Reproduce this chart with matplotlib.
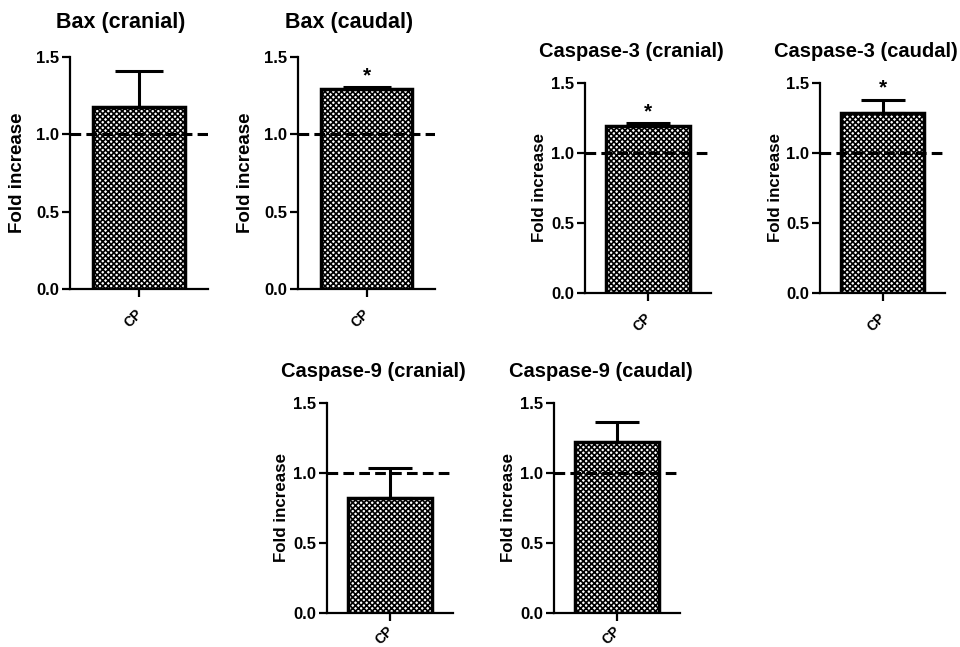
import matplotlib
matplotlib.use("Agg")
import matplotlib.pyplot as plt
from matplotlib.transforms import ScaledTranslation

# Daten
titles = ["Bax (cranial)", "Bax (caudal)", "Caspase-3 (cranial)",
          "Caspase-3 (caudal)", "Caspase-9 (cranial)", "Caspase-9 (caudal)"]
groups = ["CP"]
means = [1.177, 1.293, 1.193, 1.286, 0.821, 1.221]
sems = [0.23, 0.01, 0.02, 0.093, 0.215, 0.143]
stars = ["", "*", "*", "*", "", ""]
yticks = [0.0, 0.5, 1.0, 1.5]
ytick_labels = ["0.0", "0.5", "1.0", "1.5"]
reference = 1.0

# Lage der Achsen in Pixeln: links, rechts, oben, unten
boxes = [(70, 208, 57, 289), (298, 435, 57, 289),
         (585, 711, 83, 293), (820, 945, 83, 293),
         (327, 453, 403, 613), (554, 680, 403, 613)]

W, H = 960, 647
plt.rcParams['font.family'] = ['Liberation Sans', 'DejaVu Sans']
plt.rcParams['font.weight'] = 'bold'
plt.rcParams['hatch.linewidth'] = 1.2

fig = plt.figure(figsize=(W / 100, H / 100), dpi=100)

for i, (l, r, t, b) in enumerate(boxes):
    ax = fig.add_axes([l / W, 1 - b / H, (r - l) / W, (b - t) / H])
    big = i < 2

    x = list(range(len(groups)))
    ax.bar(x, [means[i]], width=1.0, color="white", edgecolor="black",
           hatch="xxxxxx", linewidth=2.5, zorder=3)
    ax.errorbar(x, [means[i]], yerr=[[0], [sems[i]]], fmt="none",
                ecolor="black", elinewidth=2.2, capsize=17.5 if big else 15.5,
                capthick=2.2, zorder=2)
    ax.axhline(reference, color="black", linestyle=(0, (3.5, 1.7)),
               linewidth=2.2, zorder=4)
    if stars[i]:
        ax.text(x[0], means[i] + sems[i] + 0.015, stars[i], ha="center",
                va="bottom", fontsize=15, fontweight="bold")

    ax.set_xlim(-0.75, 0.75)
    ax.set_ylim(0, 1.5)
    ax.set_yticks(yticks)
    ax.set_yticklabels(ytick_labels)
    ax.set_xticks(x)
    ax.set_xticklabels(groups, rotation=45, ha="center", va="top",
                       fontsize=10)
    for spine in ["top", "right"]:
        ax.spines[spine].set_visible(False)
    for spine in ["left", "bottom"]:
        ax.spines[spine].set_linewidth(1.6)
    ax.tick_params(axis="both", direction="out", length=6, width=1.6)
    ax.tick_params(axis="y", labelsize=12, pad=2)
    ax.tick_params(axis="x", pad=7 if b < 400 else 1.5)
    shift = ScaledTranslation(-6 / 100, 0, fig.dpi_scale_trans)
    for lab in ax.get_xticklabels():
        lab.set_transform(lab.get_transform() + shift)
    for lab in ax.get_xticklabels() + ax.get_yticklabels():
        lab.set_fontweight("bold")
    ax.set_ylabel("Fold increase", fontsize=13.5 if big else 12.2,
                  fontweight="bold")
    ax.yaxis.set_label_coords(-0.32 if big else -0.30, 0.5)
    ax.text(0.37, 1.15, titles[i], transform=ax.transAxes, ha="center",
            va="center", fontsize=15.5 if big else 14.5, fontweight="bold")

fig.savefig("out.png", dpi=100)
